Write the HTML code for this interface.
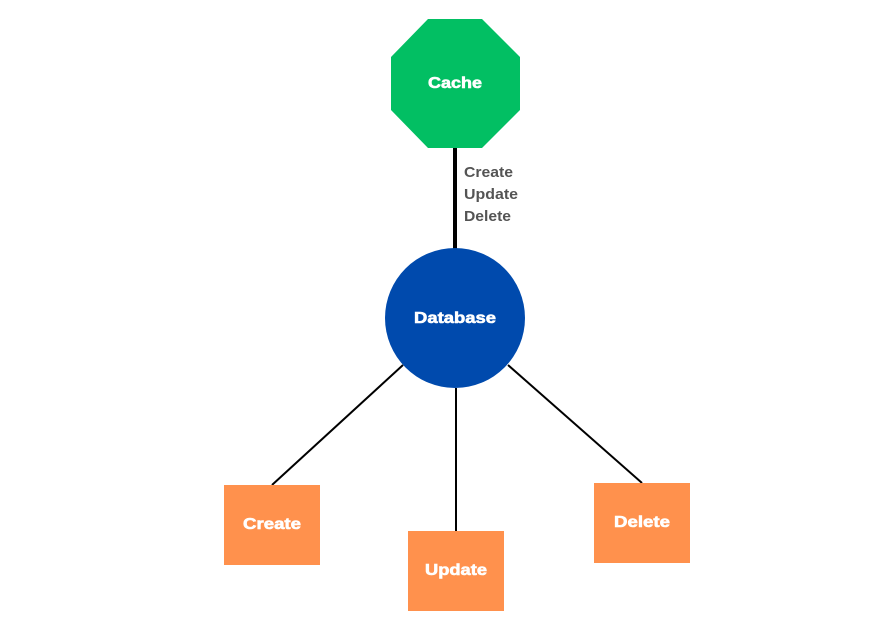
<!DOCTYPE html>
<html><head><meta charset="utf-8"><style>
html,body{margin:0;padding:0;background:#fff;}
svg{display:block;}
text{font-family:"Liberation Sans",sans-serif;}
.w{fill:#fff;font-size:16px;font-weight:bold;stroke:#fff;stroke-width:0.6px;}
.g{fill:#545454;font-size:15px;font-weight:bold;}
</style></head><body>
<svg width="895" height="637" viewBox="0 0 895 637" xmlns="http://www.w3.org/2000/svg">
<rect width="895" height="637" fill="#fff"/>
<line x1="455" y1="148" x2="455" y2="250" stroke="#000" stroke-width="4"/>
<line x1="403" y1="365" x2="272" y2="485" stroke="#000" stroke-width="2"/>
<line x1="456" y1="388" x2="456" y2="531" stroke="#000" stroke-width="2"/>
<line x1="508" y1="365" x2="642" y2="483" stroke="#000" stroke-width="2"/>
<polygon points="428,19 482,19 520,57 520,110 482,148 428,148 391,110 391,57" fill="#02bf63"/>
<text x="428" y="88" class="w" textLength="54" lengthAdjust="spacingAndGlyphs">Cache</text>
<text x="464" y="177" class="g" textLength="49" lengthAdjust="spacingAndGlyphs">Create</text>
<text x="464" y="199" class="g" textLength="54" lengthAdjust="spacingAndGlyphs">Update</text>
<text x="464" y="221" class="g" textLength="47" lengthAdjust="spacingAndGlyphs">Delete</text>
<circle cx="455" cy="318" r="70" fill="#004aad"/>
<text x="414" y="323" class="w" textLength="82" lengthAdjust="spacingAndGlyphs">Database</text>
<rect x="224" y="485" width="96" height="80" fill="#ff914d"/>
<text x="243" y="529" class="w" textLength="58" lengthAdjust="spacingAndGlyphs">Create</text>
<rect x="408" y="531" width="96" height="80" fill="#ff914d"/>
<text x="425" y="575" class="w" textLength="62" lengthAdjust="spacingAndGlyphs">Update</text>
<rect x="594" y="483" width="96" height="80" fill="#ff914d"/>
<text x="614" y="527" class="w" textLength="56" lengthAdjust="spacingAndGlyphs">Delete</text>
</svg>
</body></html>
